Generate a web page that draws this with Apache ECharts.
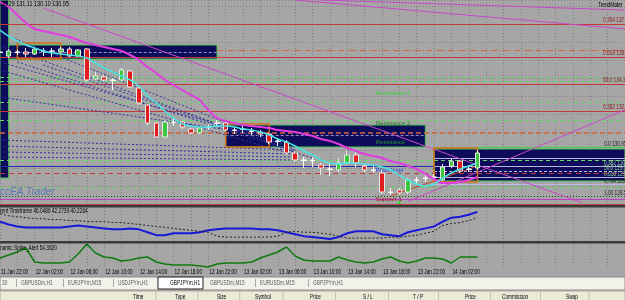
<!DOCTYPE html>
<html><head><meta charset="utf-8">
<script src="https://cdn.jsdelivr.net/npm/echarts@6/dist/echarts.min.js"></script>
<style>html,body{margin:0;padding:0;background:#a6a6a6;overflow:hidden}#c{width:625px;height:300px;}</style>
</head><body><div id="c"></div><script>
const FONT = '"Liberation Sans",Arial,sans-serif';
const NARROW = 0.68;
const categories = ["11 Jan 22:00","11 Jan 23:00",
"12 Jan 00:00","12 Jan 01:00","12 Jan 02:00","12 Jan 03:00","12 Jan 04:00","12 Jan 05:00","12 Jan 06:00","12 Jan 07:00","12 Jan 08:00","12 Jan 09:00","12 Jan 10:00","12 Jan 11:00","12 Jan 12:00","12 Jan 13:00","12 Jan 14:00","12 Jan 15:00","12 Jan 16:00","12 Jan 17:00","12 Jan 18:00","12 Jan 19:00","12 Jan 20:00","12 Jan 21:00","12 Jan 22:00","12 Jan 23:00",
"13 Jan 00:00","13 Jan 01:00","13 Jan 02:00","13 Jan 03:00","13 Jan 04:00","13 Jan 05:00","13 Jan 06:00","13 Jan 07:00","13 Jan 08:00","13 Jan 09:00","13 Jan 10:00","13 Jan 11:00","13 Jan 12:00","13 Jan 13:00","13 Jan 14:00","13 Jan 15:00","13 Jan 16:00","13 Jan 17:00","13 Jan 18:00","13 Jan 19:00","13 Jan 20:00","13 Jan 21:00","13 Jan 22:00","13 Jan 23:00",
"14 Jan 00:00","14 Jan 01:00","14 Jan 02:00","14 Jan 03:00","14 Jan 04:00","14 Jan 05:00","14 Jan 06:00","14 Jan 07:00","14 Jan 08:00","14 Jan 09:00","14 Jan 10:00","14 Jan 11:00","14 Jan 12:00","14 Jan 13:00","14 Jan 14:00","14 Jan 15:00","14 Jan 16:00","14 Jan 17:00","14 Jan 18:00","14 Jan 19:00","14 Jan 20:00","14 Jan 21:00","14 Jan 22:00"];
const tickLabels = ["11 Jan 22:00","12 Jan 02:00","12 Jan 06:00","12 Jan 10:00","12 Jan 14:00","12 Jan 18:00","12 Jan 22:00","13 Jan 02:00","13 Jan 06:00","13 Jan 10:00","13 Jan 14:00","13 Jan 18:00","13 Jan 22:00","14 Jan 02:00"];

// GBPJPY H1 candles
const openP  = [135.7,135.5,135.7,135.7,135.6,135.75,135.75,135.7,135.85,135.5,135.85,134.35,134.45,134.3,134.3,134.75,133.9,133.05,132.15,131.45,132.2,132.2,131.85,131.65,131.95,132.15,132.15,131.8,131.85,131.75,131.7,131.6,131.25,131.2,130.65,130.3,130.28,130.05,129.85,129.8,130.15,130.55,130.0,129.8,129.65,128.7,128.8,128.7,129.3,129.4,129.45,129.3,130.0,130.25,129.85,129.9];
const closeP = [135.68,135.75,135.68,135.6,135.85,135.73,135.74,135.85,135.5,135.8,134.3,134.5,134.3,134.28,134.8,133.95,133.15,132.15,131.45,132.2,132.18,131.95,131.65,131.9,131.93,132.13,131.8,131.78,131.83,131.73,131.6,131.2,131.23,130.65,130.3,130.28,130.26,129.9,129.83,130.15,130.55,130.15,129.8,129.78,128.7,128.68,128.65,129.3,129.28,129.38,129.43,129.95,130.25,129.75,129.83,130.65];
const lowP   = [135.5,135.4,135.55,135.45,135.55,135.5,135.45,135.65,135.45,135.45,134.2,134.3,134.2,133.8,134.25,133.9,133.05,132.05,131.4,131.4,132.0,131.85,131.6,131.6,131.8,131.95,131.75,131.6,131.65,131.55,131.45,131.1,131.0,130.55,130.2,129.9,129.95,129.55,129.5,129.7,130.05,129.95,129.7,129.65,128.6,128.55,128.55,128.6,129.1,129.2,129.3,129.25,129.9,129.65,129.7,129.8];
const highP  = [135.8,135.85,135.8,135.9,135.95,135.9,135.9,135.95,135.95,135.85,135.9,134.7,134.55,134.4,134.9,134.8,133.95,133.1,132.2,132.3,132.4,132.25,131.9,131.95,132.1,132.3,132.2,131.95,132.0,131.9,131.8,131.65,131.4,131.3,130.75,130.45,130.45,130.15,130.1,130.4,130.8,130.7,130.15,130.0,129.8,128.9,128.9,129.4,129.45,129.55,129.6,130.1,130.4,130.3,130.05,130.8];
const dojiIdx = [0,2,5,6,13,20,24,25,27,28,29,32,35,36,38,43,45,48,49,50,54];

const maSlow = [138.2,137.95,137.55,137.15,136.85,136.75,136.65,136.55,136.45,136.3,136.15,136.05,135.95,135.85,135.75,135.55,135.3,134.95,134.65,134.3,134.05,133.8,133.55,133.3,132.8,132.4,132.25,132.15,132.05,132.0,131.95,131.9,131.8,131.75,131.7,131.6,131.5,131.35,131.25,131.1,130.9,130.75,130.6,130.5,130.4,130.25,130.15,130.0,129.85,129.6,129.35,129.15,129.15,129.2,129.3,129.45];
const maFast = [136.8,136.5,136.25,136.05,135.9,135.75,135.65,135.6,135.55,135.5,135.4,135.15,134.9,134.7,134.5,134.3,134.0,133.5,133.15,132.75,132.4,132.1,132.0,131.95,131.95,132.0,132.0,131.95,131.85,131.8,131.7,131.55,131.35,131.2,131.0,130.75,130.55,130.3,130.15,130.1,130.15,130.15,130.1,130.05,129.95,129.8,129.55,129.3,129.1,129.0,129.1,129.4,129.65,129.85,130.0,130.15];

const tfMain   = [39.75,37.86,36.6,35.97,35.97,35.97,35.97,35.97,36.6,37.23,36.6,35.97,35.34,34.71,34.71,35.34,34.71,32.82,30.93,30.93,32.19,32.19,32.19,32.82,34.08,34.71,35.34,35.34,35.34,35.34,34.71,34.71,34.08,32.82,31.56,30.3,29.67,29.04,28.41,29.67,32.19,33.45,33.45,33.45,31.56,30.93,30.3,32.82,34.08,35.34,36.6,39.75,42.27,42.9,44.16,46.05];
const tfSignal = [44.79,43.53,42.9,42.27,41.64,41.64,41.01,41.01,40.38,40.38,39.75,39.75,39.75,39.12,39.12,38.49,37.86,37.23,36.6,35.97,35.34,34.71,34.08,33.45,32.82,30.3,29.67,29.67,29.67,29.67,29.67,29.67,30.3,32.82,33.45,32.82,32.82,32.19,31.56,30.3,29.04,29.04,29.04,29.04,29.04,29.67,29.67,30.3,30.93,32.19,33.45,37.23,38.49,39.12,40.38,42.27];
const spike = [52,58,64,72,44,42,42,42,44,60,80,62,54,52,46,48,52,54,44,40,38,38,38,36,34,40,42,42,42,44,52,58,64,74,56,48,46,46,46,54,48,44,42,44,50,54,46,42,46,52,52,50,42,54,54,54];

// horizontal levels (price)
const fibPrices = [137.1,135.45,134.1,132.75];
const fibTexts  = ['0.764 137.10','0.618 135.45','50.0 134.10','0.382 132.75'];
const lowFibPrices = [130.95,130.37,130.01,129.73,129.44,129.08];
const lowFibTexts  = ['0.0 130.95','','0.382 130.01','50.0 129.73','0.618 129.44','0.764 129.08'];
const greenDashPrices = [134.45,134.25,133.2,132.3,130.3,128.95];
const orangeDashPrice = 131.65;
const pivotPrice = 130.0;
const redDashPrice = 129.65;
const bottomFibPrice = 128.5;
const bottomFibText = '1.00 128.50';
const supportPrice = 128.35;
const dashDotLine = [[25,135.8],[72,135.8]];

// zones [x1,p1,x2,p2]
const zones = [[0,138.4,1,129.4],[1,136.05,25,135.35],[26,132.05,49,130.95],[50,130.85,72,129.25]];
const boxes = [[2,136.15,7,135.35],[26,132.1,31,130.95],[50,130.9,55,129.2]];
const zoneMidLines = [[[1,135.7],[25,135.7]],[[26,131.55],[49,131.55]]];

// trend lines [[x,p],[x,p]]
const brownLines = [[[6,138.46],[44,128.65]],[[45,128.5],[55,130.0]]];
const violetLines = [[[5,137.89],[67,128.17]],[[47,128.22],[72,132.81]],[[34,138.3],[72,136.85]],[[37,138.3],[72,137.8]]];
const fanLines = [
 [[0,136.65],[34,130.8]],[[0,136.05],[34,130.7]],[[0,135.2],[34,130.95]],[[0,134.8],[34,130.55]],
 [[2,135.2],[36,130.4]],[[5,135.05],[32,131.05]],[[0,133.45],[28,131.7]],
 [[0,131.3],[34,130.8]],[[0,131.0],[34,130.6]],[[0,130.7],[34,130.45]],[[0,130.45],[34,130.3]]];

// text labels [x, price, text, colour]
const zoneTexts = [[43,133.65,'Resistance 3','#3ad23a'],[43,132.15,'Resistance 2','#2a7a2a'],[43,131.2,'Resistance','#2a9a2a'],[43,129.8,'Pivot level','#2848e8'],[43,128.35,'Support 1','#a01818']];
const arrowPoint = [46,128.3];

const tabs = ['30','GBPUSDm,H1','EURJPYm,M15','USDJPYm,H1','GBPJPYm,H1','GBPUSDm,M15','EURUSDm,M15','GBPJPYm,H1'];
const tabX = [2,21,68,118,170,210,260,313];
const headers = ['Time','Type','Size','Symbol','Price','S / L','T / P','Price','Commission','Swap'];
const headerX = [133,175,217,255,310,363,413,465,502,566];

const chart = echarts.init(document.getElementById('c'), null, {renderer:'canvas'});

const candleData = openP.map((o,i)=>{
  const d = {value:[o, closeP[i], lowP[i], highP[i]]};
  if (dojiIdx.indexOf(i) >= 0) d.itemStyle = {color:'#ffffff', color0:'#ffffff', borderColor:'#ffffff', borderColor0:'#ffffff'};
  return d;
});

const ml = [];
fibPrices.forEach(p=>ml.push({yAxis:p, lineStyle:{color:'#c43838',width:1,type:'solid'}}));
greenDashPrices.forEach(p=>ml.push({yAxis:p, lineStyle:{color:'#66d866',width:1,type:[4,3]}}));
ml.push({yAxis:orangeDashPrice, lineStyle:{color:'#d4643c',width:1.5,type:[5,3]}});
ml.push({yAxis:pivotPrice, lineStyle:{color:'#2828a8',width:1,type:'solid'}});
ml.push({yAxis:redDashPrice, lineStyle:{color:'#c43838',width:1,type:[5,4]}});
ml.push({yAxis:bottomFibPrice, lineStyle:{color:'#204020',width:1,type:[1,2]}});
ml.push({yAxis:supportPrice, lineStyle:{color:'#c03cc0',width:1,type:'solid'}});
ml.push([{coord:dashDotLine[0], lineStyle:{color:'#d4643c',width:1,type:[6,2,1,2]}},{coord:dashDotLine[1]}]);
zoneMidLines.forEach(l=>ml.push([{coord:l[0], lineStyle:{color:'#9090c0',width:1,type:[3,2]}},{coord:l[1]}]));
lowFibPrices.forEach((p,i)=>ml.push([{coord:[50,p], lineStyle:{color: i===0?'#4ec84e':'#b8b8e0',width:1,type: i===3?[3,2]:'solid'}},{coord:[72,p]}]));
brownLines.forEach(l=>ml.push([{coord:l[0], lineStyle:{color:'#c04a24',width:1,type:'solid'}},{coord:l[1]}]));
violetLines.forEach(l=>ml.push([{coord:l[0], lineStyle:{color:'#c848c8',width:1,type:'solid'}},{coord:l[1]}]));
fanLines.forEach(l=>ml.push([{coord:l[0], lineStyle:{color:'#3232a0',width:1,type:[2,2]}},{coord:l[1]}]));

const option = {
  animation:false,
  backgroundColor:'#a6a6a6',
  textStyle:{fontFamily:FONT},
  grid:[
    {left:-3, width:630, top:0, height:204},
    {left:-3, width:630, top:208, height:33},
    {left:-3, width:630, top:244, height:24}
  ],
  xAxis:[0,1,2].map(g=>({type:'category', gridIndex:g, data:categories, boundaryGap:false,
    axisLine:{show:false}, axisTick:{show:false}, axisLabel:{show:false},
    splitLine:{show:true, interval:1, lineStyle:{color:'#808080', type:[1,2], width:1}}})),
  yAxis:[
    {type:'value', gridIndex:0, min:128.1, max:138.3, show:false},
    {type:'value', gridIndex:1, min:27.15, max:48.57, show:false},
    {type:'value', gridIndex:2, min:32, max:80, show:false},
    {type:'value', gridIndex:0, min:0, max:204, interval:18, show:true, axisLabel:{show:false}, axisLine:{show:false}, axisTick:{show:false},
     splitLine:{show:true, lineStyle:{color:'#858585', type:[1,2], width:1}}}
  ],
  series:[
    {type:'line', name:'zones', xAxisIndex:0, yAxisIndex:0, data:[], z:1, silent:true,
     markArea:{silent:true, z:1, data: zones.map(z=>[{coord:[z[0],z[1]], itemStyle:{color:'#0c0c5a', borderColor:'#4ec84e', borderWidth:1}},{coord:[z[2],z[3]]}])}},
    {type:'line', name:'levels', xAxisIndex:0, yAxisIndex:0, data:[], z:2, silent:true,
     markLine:{silent:true, symbol:'none', z:2, label:{show:false}, data:ml}},
    {type:'line', name:'boxes', xAxisIndex:0, yAxisIndex:0, data:[], z:3, silent:true,
     markArea:{silent:true, z:3, data: boxes.map(b=>[{coord:[b[0],b[1]], itemStyle:{color:'rgba(0,0,0,0)', borderColor:'#d0701a', borderWidth:1.5}},{coord:[b[2],b[3]]}])}},
    {type:'candlestick', name:'GBPJPYm,H1', xAxisIndex:0, yAxisIndex:0, data:candleData, z:5, barWidth:5,
     itemStyle:{color:'#3cc83c', color0:'#e01c1c', borderColor:'#e8e8e8', borderColor0:'#e8e8e8', borderWidth:1}},
    {type:'line', name:'maSlow', xAxisIndex:0, yAxisIndex:0, data:maSlow, symbol:'none', z:6, smooth:0.3,
     lineStyle:{color:'#e03ce0', width:2}},
    {type:'line', name:'maFast', xAxisIndex:0, yAxisIndex:0, data:maFast, symbol:'none', z:6, smooth:0.3,
     lineStyle:{color:'#48e4e4', width:1.5}},
    {type:'line', name:'labels', xAxisIndex:0, yAxisIndex:0, data:[], z:7, silent:true,
     markPoint:{silent:true, data: zoneTexts.map(t=>({coord:[t[0],t[1]], symbol:'rect', symbolSize:[1,1], itemStyle:{color:'rgba(0,0,0,0)'},
       label:{show:true, position:'right', distance:2, formatter:t[2], color:t[3], fontSize:6, fontFamily:FONT}})).concat([
       {coord:arrowPoint, symbol:'arrow', symbolSize:[5,7], itemStyle:{color:'#30e030'}, label:{show:false}}])}},
    {type:'line', name:'tfMain', xAxisIndex:1, yAxisIndex:1, data:tfMain, symbol:'none', lineStyle:{color:'#1818d8', width:2}},
    {type:'line', name:'tfSignal', xAxisIndex:1, yAxisIndex:1, data:tfSignal, symbol:'none', lineStyle:{color:'#202020', width:1, type:[2,2]}},
    {type:'line', name:'spike', xAxisIndex:2, yAxisIndex:2, data:spike, symbol:'none', lineStyle:{color:'#0f7a0f', width:1.5}}
  ]
};
chart.setOption(option);

function ntext(x, y, text, fill, size, sx){
  return {type:'text', x:x, y:y, scaleX:(sx===undefined?NARROW:sx), z:52, silent:true,
    style:{text:text, fontSize:size||7, fontFamily:FONT, fill:fill||'#000', verticalAlign:'middle', align:'left'}};
}
const g = [];
g.push({type:'rect', shape:{x:0,y:204,width:625,height:1}, style:{fill:'#b84040'}, z:50});
g.push({type:'rect', shape:{x:0,y:205,width:625,height:2.5}, style:{fill:'#3a3a3a'}, z:50});
g.push({type:'rect', shape:{x:0,y:241,width:625,height:2.5}, style:{fill:'#3a3a3a'}, z:50});
g.push(ntext(-2, 4.5, '130.29 131.11 130.10 130.95', '#000', 7, 0.78));
g.push(ntext(598, 5, 'TrendMater'));
g.push(ntext(0, 211, 'rent Timeframe 46.0486 42.2739 40.2264'));
g.push(ntext(0, 248, 'namic Spike_Alert 54.3620'));
const wm = ntext(0, 192, 'ccEA Trader', '#5a78b4', 10, 1);
wm.style.fontStyle = 'italic';
g.push(wm);
// fib labels placed through the price scale
fibPrices.forEach((p,i)=>{ const y = chart.convertToPixel({yAxisIndex:0}, p); g.push(ntext(603, y-3.5, fibTexts[i], '#8a1818')); });
lowFibPrices.forEach((p,i)=>{ if(!lowFibTexts[i]) return; const y = chart.convertToPixel({yAxisIndex:0}, p);
  g.push(ntext(604, y-3, lowFibTexts[i], i===0||i===5 ? '#202020' : '#9ad89a')); });
g.push(ntext(604, chart.convertToPixel({yAxisIndex:0}, bottomFibPrice)-3, bottomFibText, '#202020'));
// time axis labels placed through the category scale
tickLabels.forEach(t=>{ const x = chart.convertToPixel({xAxisIndex:2}, t); g.push(ntext(x+1, 272, t)); });
// tab bar
g.push({type:'rect', shape:{x:0,y:277,width:625,height:13}, style:{fill:'#f2f1ea', stroke:'#8a8a8a', lineWidth:1}, z:50});
g.push({type:'rect', shape:{x:158,y:277,width:45,height:12}, style:{fill:'#ffffff', stroke:'#202020', lineWidth:1}, z:51});
tabs.forEach((t,i)=>{
  g.push(ntext(tabX[i], 283.5, t, i===4?'#000':'#5a5a5a'));
  if (i>0 && i!==4 && i!==5) g.push({type:'rect', shape:{x:tabX[i]-5,y:279,width:0.8,height:8}, style:{fill:'#9a9a9a'}, z:52});
});
g.push({type:'rect', shape:{x:0,y:291,width:625,height:10}, style:{fill:'#ece9d8', stroke:'#b0ad9c', lineWidth:1}, z:50});
headers.forEach((t,i)=>{
  g.push(ntext(headerX[i], 297, t));
  g.push({type:'rect', shape:{x:headerX[i] + t.length*2.6 + 12, y:292, width:0.8, height:8}, style:{fill:'#b8b5a4'}, z:52});
});
chart.setOption({graphic:g});
</script></body></html>
